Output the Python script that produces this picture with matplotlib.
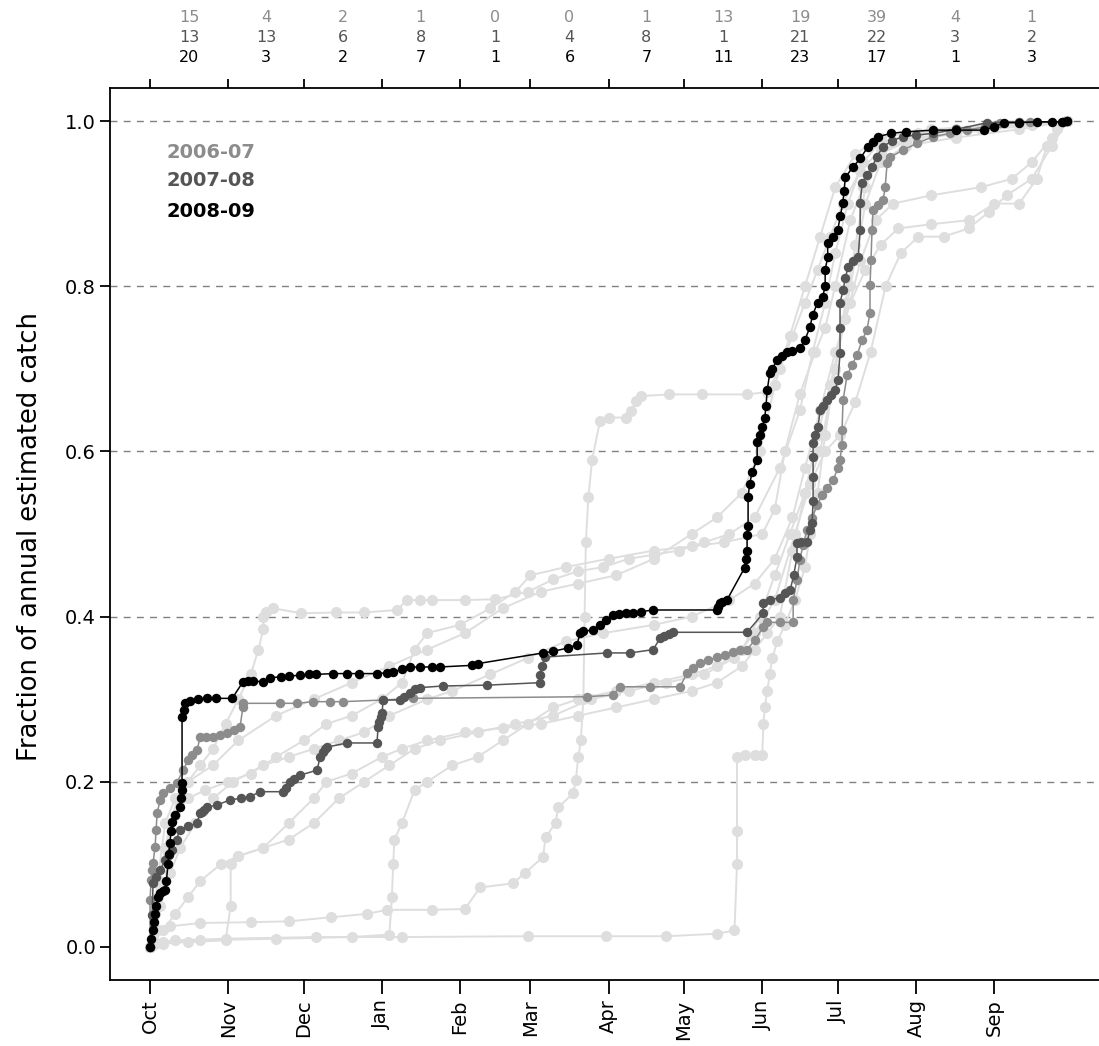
import matplotlib
matplotlib.use("Agg")
import matplotlib.pyplot as plt
from matplotlib.transforms import blended_transform_factory

# months of the fishing year (day 0 = 1 Oct)
MONTH_LABELS = ["Oct", "Nov", "Dec", "Jan", "Feb", "Mar", "Apr", "May", "Jun", "Jul", "Aug", "Sep"]
MONTH_START = [0, 31, 61, 92, 123, 151, 182, 212, 243, 273, 304, 335]
YEAR_END = 365

# monthly counts shown above the plot
COUNTS_0607 = [15, 4, 2, 1, 0, 0, 1, 13, 19, 39, 4, 1]
COUNTS_0708 = [13, 13, 6, 8, 1, 4, 8, 1, 21, 22, 3, 2]
COUNTS_0809 = [20, 3, 2, 7, 1, 6, 7, 11, 23, 17, 1, 3]

YEAR_LABELS = ["2006-07", "2007-08", "2008-09"]

# highlighted seasons: day of season, cumulative fraction
DAY_0809 = [0, 0.5, 1, 1.5, 2, 2.5, 3.2, 4, 5, 6, 6.5, 7.1, 7.5, 7.9, 8.3, 8.7, 10, 11.9, 12.3, 12.5,
            12.7, 12.7, 13.3, 13.9, 16, 19, 22.6, 26, 32.6, 36.9, 39, 41, 44.9, 47.6, 52, 55, 59.5, 63,
            66, 72.6, 78, 83, 90, 94, 96.5, 100, 103, 107, 112, 115, 128, 130, 156, 160, 166, 169.5,
            170.7, 172, 175.9, 178.6, 181, 183.8, 186, 189, 191.7, 195, 199.7, 225, 225.5, 226.3, 227,
            229, 236, 236.5, 237, 237, 237.4, 237.4, 238, 239, 241, 241, 242, 243, 244, 244.5, 245, 246,
            247, 249, 251, 253, 255, 258, 260, 262, 263, 265, 267, 268, 268, 269, 269, 271, 273, 274,
            275, 275.5, 276, 279, 282, 285, 287, 289, 294, 300, 311, 320, 331, 335, 339, 345, 352, 358,
            362, 364]
FRAC_0809 = [0, 0.01, 0.02, 0.03, 0.04, 0.05, 0.061, 0.065, 0.068, 0.069, 0.08, 0.10, 0.113, 0.126, 0.14,
             0.151, 0.16, 0.17, 0.18, 0.19, 0.199, 0.278, 0.287, 0.295, 0.298, 0.300, 0.301, 0.301, 0.301,
             0.321, 0.322, 0.322, 0.321, 0.326, 0.327, 0.328, 0.329, 0.330, 0.330, 0.331, 0.331, 0.331,
             0.331, 0.332, 0.333, 0.336, 0.339, 0.339, 0.339, 0.339, 0.341, 0.343, 0.356, 0.358, 0.362,
             0.366, 0.38, 0.382, 0.384, 0.39, 0.396, 0.402, 0.403, 0.404, 0.404, 0.406, 0.408, 0.408,
             0.412, 0.416, 0.418, 0.42, 0.459, 0.47, 0.48, 0.499, 0.51, 0.545, 0.56, 0.575, 0.59, 0.611,
             0.62, 0.63, 0.64, 0.655, 0.674, 0.695, 0.70, 0.711, 0.716, 0.720, 0.722, 0.725, 0.735,
             0.751, 0.765, 0.780, 0.787, 0.80, 0.820, 0.835, 0.852, 0.86, 0.868, 0.885, 0.901, 0.915,
             0.932, 0.944, 0.955, 0.969, 0.975, 0.981, 0.985, 0.987, 0.989, 0.989, 0.989, 0.993, 0.998,
             0.998, 0.999, 0.999, 0.999, 1.0]

DAY_0708 = [0, 0.8, 1.2, 2.5, 4.0, 6.0, 7.5, 8.7, 10.5, 11.9, 15, 18.7, 19.8, 20.5, 21.5, 22.6, 26.6,
            31.8, 36, 39.7, 43.7, 52.8, 54, 55.6, 57, 59.5, 66.3, 67.5, 68.5, 69.3, 70.3, 78.2, 90.1,
            90.5, 91, 91.6, 92.1, 92.5, 99.2, 101, 103.2, 105, 107.2, 116.3, 133.8, 154.8, 154.8, 155.5,
            156.8, 181.4, 190.6, 199.7, 202.5, 204, 206, 207.6, 237.0, 243.4, 243.4, 246, 250.1, 252,
            254.1, 255.5, 256.8, 256.8, 258.5, 260.8, 262, 262.8, 263.2, 263.2, 263.2, 263.2, 264,
            265.2, 266.0, 267.2, 268.8, 270.3, 271.9, 273.1, 273.9, 273.9, 273.9, 275.1, 276, 277.1,
            279, 281.1, 281.9, 281.9, 282.7, 284.5, 286.6, 288.5, 291.0, 294.5, 298.9, 304, 310.8, 320,
            332.3, 345, 362.4, 364]
FRAC_0708 = [0, 0.039, 0.077, 0.085, 0.093, 0.105, 0.111, 0.117, 0.13, 0.142, 0.146, 0.150, 0.162,
             0.164, 0.166, 0.169, 0.172, 0.178, 0.18, 0.182, 0.188, 0.188, 0.192, 0.200, 0.203, 0.208,
             0.214, 0.230, 0.236, 0.24, 0.242, 0.247, 0.247, 0.266, 0.272, 0.278, 0.283, 0.299, 0.299,
             0.303, 0.308, 0.312, 0.314, 0.316, 0.317, 0.320, 0.329, 0.34, 0.351, 0.356, 0.356, 0.360,
             0.374, 0.377, 0.379, 0.381, 0.381, 0.404, 0.416, 0.42, 0.423, 0.428, 0.432, 0.45, 0.472,
             0.489, 0.49, 0.490, 0.505, 0.513, 0.54, 0.569, 0.593, 0.610, 0.62, 0.630, 0.650, 0.655,
             0.662, 0.668, 0.674, 0.686, 0.719, 0.75, 0.780, 0.795, 0.81, 0.823, 0.83, 0.835, 0.868,
             0.901, 0.925, 0.935, 0.944, 0.957, 0.969, 0.976, 0.981, 0.983, 0.985, 0.99, 0.998, 0.999,
             0.999, 1.0]

DAY_0607 = [0, 0, 0.4, 0.8, 1.2, 2, 2.4, 2.8, 4, 5.2, 7.9, 10.7, 13.1, 15.1, 16.7, 18.7, 19.8, 22.2, 25,
            27.8, 30.6, 33.3, 35.7, 36.9, 36.9, 51.6, 58.4, 64.7, 71.5, 76.6, 92.5, 104.4, 173.5, 183.8,
            186.6, 198.5, 210.4, 213.2, 215.6, 218.3, 221.5, 225.1, 228.3, 231.4, 234.2, 237, 240.2,
            243.4, 244.9, 250.1, 255.3, 255.3, 256.8, 258, 259.2, 260.8, 262.8, 264.8, 266.8, 268.8,
            271.1, 273.1, 273.9, 274.7, 274.7, 275.1, 276.7, 278.7, 280.7, 282.7, 284.6, 285.8, 285.8,
            286.2, 286.6, 287.0, 289, 291, 291.8, 292.6, 293.8, 298.9, 304.5, 310.8, 317.6, 324.3, 331.5,
            337.4, 349.3, 362.4, 364]
FRAC_0607 = [0, 0.057, 0.081, 0.093, 0.102, 0.121, 0.142, 0.162, 0.178, 0.186, 0.192, 0.199, 0.214,
             0.226, 0.232, 0.238, 0.254, 0.254, 0.254, 0.257, 0.259, 0.263, 0.266, 0.291, 0.295, 0.295,
             0.295, 0.297, 0.297, 0.297, 0.299, 0.301, 0.303, 0.305, 0.315, 0.315, 0.315, 0.332, 0.338,
             0.344, 0.347, 0.351, 0.354, 0.357, 0.360, 0.360, 0.372, 0.387, 0.393, 0.393, 0.393, 0.42,
             0.444, 0.469, 0.487, 0.505, 0.519, 0.535, 0.547, 0.556, 0.565, 0.58, 0.59, 0.608, 0.626,
             0.662, 0.692, 0.705, 0.717, 0.735, 0.747, 0.768, 0.801, 0.832, 0.868, 0.892, 0.898, 0.904,
             0.92, 0.949, 0.956, 0.965, 0.973, 0.981, 0.985, 0.989, 0.993, 0.998, 0.999, 0.999, 1.0]

# other seasons (light grey background)
BG1_DAY = [0, 2, 5, 10, 30, 66, 100, 150, 181, 205, 225, 232, 233, 233, 233, 236, 240, 243, 243.5, 244,
           245, 246, 247, 249, 252, 256, 260, 262, 265, 268, 272, 276, 280, 284, 290, 300, 320, 345, 364]
BG1_FRAC = [0, 0.003, 0.006, 0.008, 0.01, 0.012, 0.012, 0.013, 0.013, 0.013, 0.016, 0.02, 0.10, 0.14,
            0.23, 0.232, 0.232, 0.232, 0.27, 0.29, 0.31, 0.33, 0.35, 0.37, 0.39, 0.42, 0.46, 0.5, 0.55,
            0.62, 0.7, 0.78, 0.85, 0.92, 0.96, 0.98, 0.99, 0.995, 1.0]

BG2_DAY = [0, 1, 3, 8, 20, 40, 55, 72, 86, 94, 112, 125, 131, 144, 149, 156, 157, 161, 162, 168, 169,
           170, 171, 172, 172.5, 173, 174, 175.5, 178.6, 182, 189, 191, 193, 195, 206, 219, 237, 245,
           250, 255, 260, 265, 270, 275, 282, 290, 305, 330, 364]
BG2_FRAC = [0, 0.01, 0.02, 0.025, 0.029, 0.03, 0.031, 0.036, 0.04, 0.045, 0.045, 0.046, 0.072, 0.077,
            0.09, 0.109, 0.133, 0.15, 0.169, 0.186, 0.202, 0.23, 0.25, 0.3, 0.4, 0.49, 0.545, 0.59,
            0.637, 0.641, 0.641, 0.649, 0.661, 0.667, 0.669, 0.669, 0.669, 0.672, 0.7, 0.74, 0.78,
            0.82, 0.86, 0.9, 0.94, 0.965, 0.98, 0.99, 1.0]

BG3_DAY = [0, 2, 4, 6, 8, 11, 15, 20, 25, 30, 35, 40, 43, 45, 45, 46, 49, 60, 74, 85, 98, 102, 107, 112,
           125, 137, 150, 160, 170, 180, 190, 200, 210, 220, 230, 240, 250, 258, 263, 268, 272, 277,
           283, 290, 305, 330, 364]
BG3_FRAC = [0, 0.04, 0.08, 0.12, 0.15, 0.18, 0.2, 0.22, 0.24, 0.27, 0.30, 0.33, 0.36, 0.385, 0.4, 0.405,
            0.41, 0.404, 0.405, 0.405, 0.408, 0.42, 0.42, 0.42, 0.42, 0.421, 0.43, 0.445, 0.455, 0.46,
            0.47, 0.475, 0.48, 0.49, 0.5, 0.52, 0.58, 0.65, 0.72, 0.78, 0.84, 0.9, 0.95, 0.975, 0.985,
            0.992, 1.0]

BG4_DAY = [0, 3, 6, 10, 15, 22, 31, 40, 50, 61, 70, 80, 92, 100, 105, 110, 123, 135, 145, 151, 165, 182,
           200, 215, 228, 243, 248, 252, 258, 264, 268, 272, 278, 283, 290, 300, 320, 350, 364]
BG4_FRAC = [0, 0.06, 0.12, 0.16, 0.18, 0.19, 0.2, 0.21, 0.23, 0.25, 0.27, 0.28, 0.3, 0.32, 0.36, 0.38,
            0.39, 0.41, 0.43, 0.45, 0.46, 0.47, 0.48, 0.485, 0.49, 0.5, 0.53, 0.6, 0.67, 0.72, 0.75, 0.8,
            0.88, 0.92, 0.96, 0.975, 0.985, 0.995, 1.0]

BG5_DAY = [0, 4, 8, 12, 18, 25, 33, 45, 55, 65, 75, 85, 95, 110, 120, 135, 150, 165, 180, 200, 215, 230,
           240, 248, 255, 260, 266, 272, 278, 284, 290, 297, 310, 325, 335, 345, 352, 356, 360, 364]
BG5_FRAC = [0, 0.05, 0.09, 0.12, 0.15, 0.18, 0.2, 0.22, 0.23, 0.24, 0.25, 0.26, 0.28, 0.3, 0.31, 0.33,
            0.35, 0.37, 0.38, 0.39, 0.4, 0.42, 0.44, 0.47, 0.52, 0.58, 0.65, 0.72, 0.78, 0.82, 0.85,
            0.87, 0.875, 0.88, 0.9, 0.9, 0.93, 0.97, 0.99, 1.0]

BG6_DAY = [0, 5, 10, 15, 20, 28, 35, 45, 55, 65, 75, 85, 95, 105, 115, 130, 145, 160, 175, 190, 205, 220,
           232, 240, 248, 256, 262, 268, 274, 280, 286, 292, 298, 305, 315, 325, 333, 340, 350, 358, 364]
BG6_FRAC = [0, 0.02, 0.04, 0.06, 0.08, 0.1, 0.11, 0.12, 0.13, 0.15, 0.18, 0.2, 0.22, 0.24, 0.25, 0.26,
            0.27, 0.28, 0.3, 0.31, 0.32, 0.33, 0.35, 0.38, 0.42, 0.5, 0.56, 0.6, 0.62, 0.66, 0.72, 0.8,
            0.84, 0.86, 0.86, 0.87, 0.89, 0.91, 0.93, 0.97, 1.0]

BG7_DAY = [0, 5, 20, 50, 80, 95, 96, 96.5, 97, 100, 105, 110, 120, 130, 140, 150, 160, 170, 185, 200,
           215, 225, 235, 242, 248, 254, 260, 266, 272, 278, 284, 290, 300, 320, 345, 364]
BG7_FRAC = [0, 0.005, 0.008, 0.01, 0.012, 0.015, 0.06, 0.1, 0.13, 0.15, 0.19, 0.2, 0.22, 0.23, 0.25,
            0.27, 0.29, 0.3, 0.31, 0.32, 0.33, 0.34, 0.36, 0.4, 0.45, 0.5, 0.55, 0.6, 0.7, 0.8, 0.9,
            0.95, 0.97, 0.98, 0.99, 1.0]

BG8_DAY = [0, 3, 6, 10, 15, 25, 35, 50, 65, 80, 95, 110, 125, 140, 155, 170, 185, 200, 215, 225, 235,
           242, 248, 254, 260, 266, 272, 280, 290, 310, 364]
BG8_FRAC = [0, 0.08, 0.15, 0.18, 0.2, 0.22, 0.25, 0.28, 0.3, 0.32, 0.34, 0.36, 0.38, 0.41, 0.43, 0.44,
            0.45, 0.47, 0.5, 0.52, 0.55, 0.6, 0.68, 0.74, 0.8, 0.86, 0.92, 0.96, 0.98, 0.99, 1.0]

BG9_DAY = [0, 5, 15, 30, 32, 32, 35, 45, 55, 65, 70, 80, 92, 100, 110, 125, 140, 155, 170, 185, 200, 215,
           225, 235, 240, 245, 250, 255, 260, 265, 270, 276, 282, 288, 295, 310, 330, 342, 350, 358, 364]
BG9_FRAC = [0, 0.004, 0.006, 0.008, 0.05, 0.1, 0.11, 0.12, 0.15, 0.18, 0.2, 0.21, 0.23, 0.24, 0.25,
            0.26, 0.265, 0.27, 0.28, 0.29, 0.3, 0.31, 0.32, 0.34, 0.36, 0.38, 0.4, 0.48, 0.55, 0.62,
            0.68, 0.76, 0.83, 0.88, 0.9, 0.91, 0.92, 0.93, 0.95, 0.98, 1.0]

BACKGROUND = [(BG1_DAY, BG1_FRAC), (BG2_DAY, BG2_FRAC), (BG3_DAY, BG3_FRAC), (BG4_DAY, BG4_FRAC),
              (BG5_DAY, BG5_FRAC), (BG6_DAY, BG6_FRAC), (BG7_DAY, BG7_FRAC), (BG8_DAY, BG8_FRAC),
              (BG9_DAY, BG9_FRAC)]

BG_COLOR = "#dedede"
YEAR_COLORS = ["#8c8c8c", "#555555", "#000000"]

fig = plt.figure(figsize=(10.99, 10.46), dpi=100)
ax = fig.add_axes([110 / 1099, 66 / 1046, 989 / 1099, 892 / 1046])

for d, f in BACKGROUND:
    ax.plot(d, f, color=BG_COLOR, lw=1.4, marker="o", ms=8, mew=0, zorder=2)

highlight = [(DAY_0607, FRAC_0607), (DAY_0708, FRAC_0708), (DAY_0809, FRAC_0809)]
for (d, f), c in zip(highlight, YEAR_COLORS):
    ax.plot(d, f, color=c, lw=1.1, marker="o", ms=6.8, mew=0, zorder=3)

for yv in [0.2, 0.4, 0.6, 0.8, 1.0]:
    ax.axhline(yv, color="#808080", lw=1.0, linestyle=(0, (5, 4.5)), zorder=1)

ax.set_xlim(-15.9, 376.7)
ax.set_ylim(-0.04, 1.04)

ax.spines["right"].set_visible(False)
for s in ["left", "bottom", "top"]:
    ax.spines[s].set_linewidth(1.3)

ax.set_yticks([0.0, 0.2, 0.4, 0.6, 0.8, 1.0])
ax.set_yticklabels(["0.0", "0.2", "0.4", "0.6", "0.8", "1.0"], fontsize=14)
ax.tick_params(axis="y", length=7, width=1.3, pad=3)

ax.set_xticks(MONTH_START)
ax.set_xticklabels(MONTH_LABELS, rotation=90, fontsize=14)
ax.tick_params(axis="x", top=True, labeltop=False, length=10, width=1.3, pad=4)
for t in ax.xaxis.get_major_ticks():
    t.tick2line.set_markersize(6.5)

fig.text(0.027, 0.487, "Fraction of annual estimated catch", rotation=90,
         ha="center", va="center", fontsize=18.5)

# monthly counts above the plot
trans = blended_transform_factory(ax.transData, fig.transFigure)
bounds = MONTH_START + [YEAR_END]
row_y = [1 - 18 / 1046, 1 - 38 / 1046, 1 - 57 / 1046]
for counts, c, yy in zip([COUNTS_0607, COUNTS_0708, COUNTS_0809], YEAR_COLORS, row_y):
    for i, n in enumerate(counts):
        xm = (bounds[i] + bounds[i + 1]) / 2
        ax.text(xm, yy, str(n), transform=trans, ha="center", va="center",
                fontsize=11.5, color=c, clip_on=False)

# year key
for lab, c, yy in zip(YEAR_LABELS, YEAR_COLORS, [0.928, 0.896, 0.862]):
    ax.text(0.0576, yy, lab, transform=ax.transAxes, color=c, fontsize=14,
            fontweight="bold", ha="left", va="center")

fig.savefig("out.png", dpi=100)
